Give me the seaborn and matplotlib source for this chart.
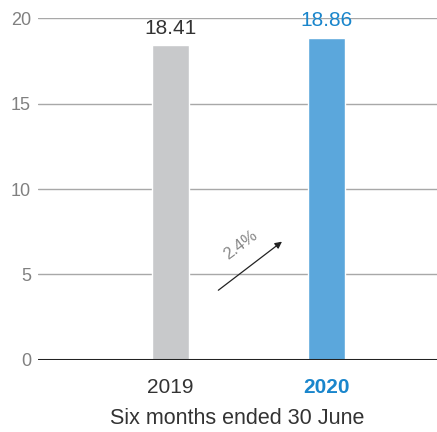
import matplotlib
matplotlib.use("Agg")
import matplotlib.pyplot as plt
import seaborn as sns
import pandas as pd

years = ["2019", "2020"]
values = [18.41, 18.86]
bar_colors = ["#c8c9cb", "#5ba7dc"]
label_colors = ["#333333", "#1a86cc"]
growth_label = "2.4%"

sns.set_style("white")
plt.rcParams["font.family"] = ["Liberation Sans", "DejaVu Sans"]

df = pd.DataFrame({"year": years, "value": values})

fig = plt.figure(figsize=(4.37, 4.32), dpi=100)
ax = fig.add_axes([0.087, 0.1667, 0.913, 0.7916])

sns.barplot(data=df, x="year", y="value", hue="year", palette=bar_colors,
            legend=False, width=0.237, ax=ax, saturation=1)

ax.set_ylim(0, 20)
ax.set_xlim(-0.846, 1.71)
ax.set_yticks([0, 5, 10, 15, 20])
for y in [5, 10, 15, 20]:
    ax.axhline(y, color="#a8a8a8", lw=1, zorder=0)
ax.axhline(0, color="#222222", lw=2.2, zorder=3)

for s in ax.spines.values():
    s.set_visible(False)

ax.tick_params(axis="y", length=0, labelsize=13, labelcolor="#808080", pad=5)
ax.tick_params(axis="x", length=0, labelsize=15, pad=13)
for lbl, c in zip(ax.get_xticklabels(), label_colors):
    lbl.set_color(c)
ax.get_xticklabels()[1].set_fontweight("bold")

ax.set_xlabel("Six months ended 30 June", fontsize=15.5, color="#333333", labelpad=8)
ax.set_ylabel("")

for i, (v, c) in enumerate(zip(values, label_colors)):
    ax.text(i, v + 0.45, f"{v:.2f}", ha="center", va="bottom", fontsize=15, color=c)

ax.annotate("", xy=(0.731, 7.02), xytext=(0.295, 3.98),
            arrowprops=dict(arrowstyle="-|>", color="#222222", lw=0.9,
                            mutation_scale=10))
ax.text(0.45, 6.75, growth_label, rotation=37, ha="center", va="center",
        fontsize=12, color="#888888")

fig.savefig("out.png", dpi=100)
